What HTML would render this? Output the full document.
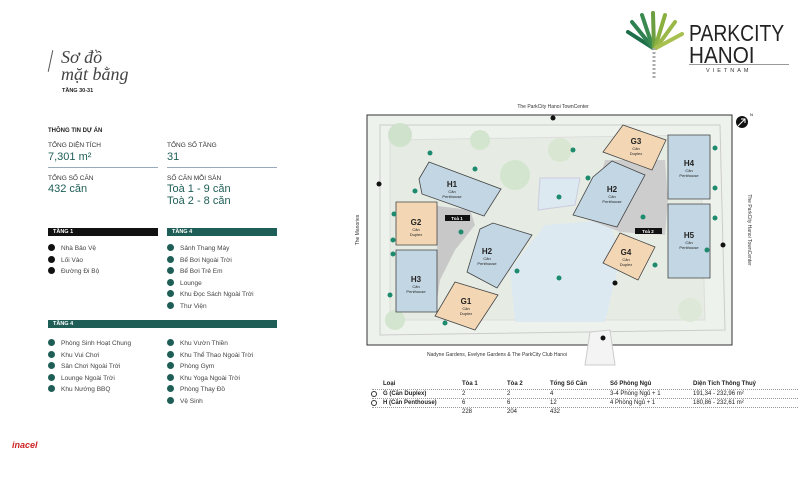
<!DOCTYPE html>
<html><head><meta charset="utf-8">
<style>
*{margin:0;padding:0;box-sizing:border-box}
body{width:800px;height:500px;background:#fff;position:relative;overflow:hidden;font-family:"Liberation Sans",sans-serif;color:#222}
.a{position:absolute;white-space:nowrap}
.s{font-size:6.5px;color:#333}
.h{font-size:6px;font-weight:bold;color:#222}
.v{font-size:11px;color:#1e5e56}
.bar{position:absolute;height:8px;color:#fff;font-size:5.5px;font-weight:bold;padding-left:5px;line-height:8px}
.it{position:absolute;font-size:6.5px;color:#444;white-space:nowrap}
.it b{display:inline-block;width:7px;height:7px;border-radius:50%;background:#1e5e56;margin-right:6px;vertical-align:-1px}
.k b{background:#111}
.t{position:absolute;font-size:6px;white-space:nowrap}
.th{font-weight:bold}
</style></head><body>
<div class="a" style="left:50px;top:50px;width:1px;height:22px;background:#555;transform:rotate(12deg)"></div>
<div class="a" style="left:61px;top:47px;font-family:'Liberation Serif',serif;font-style:italic;font-size:18px;color:#444">Sơ đồ</div>
<div class="a" style="left:61px;top:64px;font-family:'Liberation Serif',serif;font-style:italic;font-size:18px;color:#444">mặt bằng</div>
<div class="a h" style="left:62px;top:88px;font-size:5.5px">TẦNG 30-31</div>

<div class="a h" style="left:48px;top:128px">THÔNG TIN DỰ ÁN</div>
<div class="a s" style="left:48px;top:142px">TỔNG DIỆN TÍCH</div>
<div class="a v" style="left:48px;top:151px">7,301 m²</div>
<div class="a s" style="left:167px;top:142px">TỔNG SỐ TẦNG</div>
<div class="a v" style="left:167px;top:151px">31</div>
<div class="a" style="left:48px;top:167px;width:110px;height:1px;background:#9ab"></div>
<div class="a" style="left:167px;top:167px;width:110px;height:1px;background:#9ab"></div>
<div class="a s" style="left:48px;top:175px">TỔNG SỐ CĂN</div>
<div class="a v" style="left:48px;top:183px">432 căn</div>
<div class="a s" style="left:167px;top:175px">SỐ CĂN MỖI SÀN</div>
<div class="a v" style="left:167px;top:183px">Toà 1 - 9 căn</div>
<div class="a v" style="left:167px;top:195px">Toà 2 - 8 căn</div>

<div class="bar" style="left:48px;top:228px;width:110px;background:#111">TẦNG 1</div>
<div class="bar" style="left:167px;top:228px;width:110px;background:#1e5e56">TẦNG 4</div>
<div class="it k" style="left:48px;top:244px"><b></b>Nhà Bảo Vệ</div>
<div class="it k" style="left:48px;top:256px"><b></b>Lối Vào</div>
<div class="it k" style="left:48px;top:267px"><b></b>Đường Đi Bộ</div>
<div class="it" style="left:167px;top:244px"><b></b>Sảnh Thang Máy</div>
<div class="it" style="left:167px;top:256px"><b></b>Bể Bơi Ngoài Trời</div>
<div class="it" style="left:167px;top:267px"><b></b>Bể Bơi Trẻ Em</div>
<div class="it" style="left:167px;top:279px"><b></b>Lounge</div>
<div class="it" style="left:167px;top:290px"><b></b>Khu Đọc Sách Ngoài Trời</div>
<div class="it" style="left:167px;top:302px"><b></b>Thư Viện</div>

<div class="bar" style="left:48px;top:320px;width:229px;background:#1e5e56">TẦNG 4</div>
<div class="it" style="left:48px;top:339px"><b></b>Phòng Sinh Hoạt Chung</div>
<div class="it" style="left:48px;top:351px"><b></b>Khu Vui Chơi</div>
<div class="it" style="left:48px;top:362px"><b></b>Sân Chơi Ngoài Trời</div>
<div class="it" style="left:48px;top:374px"><b></b>Lounge Ngoài Trời</div>
<div class="it" style="left:48px;top:385px"><b></b>Khu Nướng BBQ</div>
<div class="it" style="left:167px;top:339px"><b></b>Khu Vườn Thiền</div>
<div class="it" style="left:167px;top:351px"><b></b>Khu Thể Thao Ngoài Trời</div>
<div class="it" style="left:167px;top:362px"><b></b>Phòng Gym</div>
<div class="it" style="left:167px;top:374px"><b></b>Khu Yoga Ngoài Trời</div>
<div class="it" style="left:167px;top:385px"><b></b>Phòng Thay Đồ</div>
<div class="it" style="left:167px;top:397px"><b></b>Vệ Sinh</div>

<!-- logo -->
<svg class="a" style="left:620px;top:10px" width="70" height="70" viewBox="0 0 70 70">
<g stroke-width="4" stroke-linecap="round" fill="none">
<path d="M33 38 L8 22" stroke="#1e6e4a"/><path d="M33 38 L12 12" stroke="#2e8050"/><path d="M33 38 L22 5" stroke="#3a8a50"/>
<path d="M34 38 L33 3" stroke="#6a9e40"/><path d="M35 38 L45 5" stroke="#8ab040"/><path d="M36 38 L55 12" stroke="#9ab848"/><path d="M36 38 L62 24" stroke="#a8c050"/>
</g>
<path d="M34 38 L34 68" stroke="#aaa" stroke-width="3" stroke-dasharray="2 2"/>
</svg>
<div class="a" style="left:689px;top:20px;font-size:23px;color:#222;transform:scaleX(0.84);transform-origin:0 0">PARKCITY</div>
<div class="a" style="left:689px;top:42px;font-size:23px;color:#222;transform:scaleX(0.9);transform-origin:0 0">HANOI</div>
<div class="a" style="left:689px;top:64px;width:100px;height:1px;background:#999"></div>
<div class="a" style="left:706px;top:68px;font-size:5.5px;letter-spacing:3px;color:#333">VIETNAM</div>

<!-- map -->
<svg class="a" style="left:340px;top:98px" width="420" height="270" viewBox="340 98 420 270">
<rect x="367" y="115" width="365" height="230" fill="#eef2ec" stroke="#333" stroke-width="1"/>
<path d="M380 125 L720 125 L725 330 L380 335 Z" fill="none" stroke="#ccc"/>
<path d="M390 140 L700 135 L705 320 L390 320 Z" fill="#e6ece4" stroke="#ddd"/>
<circle cx="400" cy="135" r="12" fill="#cfe2cc"/><circle cx="515" cy="175" r="15" fill="#d3e5cf"/><circle cx="480" cy="140" r="10" fill="#d3e5cf"/>
<circle cx="560" cy="150" r="12" fill="#d8e6d2"/><circle cx="395" cy="320" r="10" fill="#d3e5cf"/><circle cx="690" cy="310" r="12" fill="#dde8d8"/>
<path d="M540 178 L580 178 L575 205 L538 210 Z" fill="#dde9f1" stroke="#ccd"/>
<path d="M545 225 L610 220 L620 260 L605 322 L515 322 L510 270 Z" fill="#dde9f1"/>
<path d="M430 205 L470 210 L475 225 L455 250 L440 280 L437 300 L437 245 Z" fill="#c8c8c8"/>
<path d="M605 160 L665 160 L668 200 L665 235 L620 232 L590 220 Z" fill="#cdcdcd"/>
<path d="M590 332 L610 330 L615 365 L585 365 Z" fill="#f4f4f4" stroke="#ccc"/>
<g stroke="#444" stroke-width="0.8">
<polygon points="429,162 501,189 484,216 422,194 419,179" fill="#c3d6e3"/>
<polygon points="396,202 437,202 437,245 396,245" fill="#f3d7b5"/>
<polygon points="396,250 437,250 437,312 396,312" fill="#c3d6e3"/>
<polygon points="480,229 493,223 532,235 497,288 467,272" fill="#c3d6e3"/>
<polygon points="455,282 498,295 475,330 435,316" fill="#f3d7b5"/>
<polygon points="623,125 666,140 652,170 603,152" fill="#f3d7b5"/>
<polygon points="612,161 645,175 617,227 573,215 593,177" fill="#c3d6e3"/>
<polygon points="668,135 710,135 710,199 668,199" fill="#c3d6e3"/>
<polygon points="668,204 710,204 710,278 668,278" fill="#c3d6e3"/>
<polygon points="620,233 655,247 638,280 603,263" fill="#f3d7b5"/>
</g>
<g font-family="Liberation Sans" text-anchor="middle" fill="#222">
<g font-size="8" font-weight="bold"><text x="452" y="187">H1</text><text x="416" y="225">G2</text><text x="416" y="282">H3</text><text x="487" y="254">H2</text><text x="466" y="304">G1</text><text x="636" y="144">G3</text><text x="612" y="192">H2</text><text x="689" y="166">H4</text><text x="689" y="238">H5</text><text x="626" y="255">G4</text></g>
<g font-size="4"><text x="452" y="193">Căn</text><text x="452" y="198">Penthouse</text><text x="416" y="231">Căn</text><text x="416" y="236">Duplex</text><text x="416" y="288">Căn</text><text x="416" y="293">Penthouse</text><text x="487" y="260">Căn</text><text x="487" y="265">Penthouse</text><text x="466" y="310">Căn</text><text x="466" y="315">Duplex</text><text x="636" y="150">Căn</text><text x="636" y="155">Duplex</text><text x="612" y="198">Căn</text><text x="612" y="203">Penthouse</text><text x="689" y="172">Căn</text><text x="689" y="177">Penthouse</text><text x="689" y="244">Căn</text><text x="689" y="249">Penthouse</text><text x="626" y="261">Căn</text><text x="626" y="266">Duplex</text></g>
</g>
<rect x="445" y="215" width="25" height="6" fill="#111"/><text x="457" y="220" font-size="4.5" fill="#fff" text-anchor="middle" font-family="Liberation Sans" font-weight="bold">Toà 1</text>
<rect x="635" y="228" width="27" height="6" fill="#111"/><text x="648" y="233" font-size="4.5" fill="#fff" text-anchor="middle" font-family="Liberation Sans" font-weight="bold">Toà 2</text>
<g fill="#1e8a6e">
<circle cx="430" cy="153" r="2.5"/><circle cx="475" cy="169" r="2.5"/><circle cx="415" cy="191" r="2.5"/><circle cx="394" cy="214" r="2.5"/><circle cx="393" cy="240" r="2.5"/><circle cx="393" cy="254" r="2.5"/><circle cx="390" cy="295" r="2.5"/><circle cx="461" cy="232" r="2.5"/><circle cx="517" cy="271" r="2.5"/><circle cx="445" cy="323" r="2.5"/><circle cx="559" cy="278" r="2.5"/><circle cx="559" cy="197" r="2.5"/><circle cx="573" cy="150" r="2.5"/><circle cx="588" cy="178" r="2.5"/><circle cx="643" cy="217" r="2.5"/><circle cx="655" cy="265" r="2.5"/><circle cx="715" cy="148" r="2.5"/><circle cx="715" cy="188" r="2.5"/><circle cx="715" cy="218" r="2.5"/><circle cx="707" cy="250" r="2.5"/>
</g>
<g fill="#111"><circle cx="553" cy="118" r="2.5"/><circle cx="379" cy="184" r="2.5"/><circle cx="723" cy="245" r="2.5"/><circle cx="615" cy="283" r="2.5"/><circle cx="603" cy="338" r="2.5"/></g>
<circle cx="742" cy="122" r="6" fill="#111"/><path d="M738 126 L745 119 M741 119 L745 119 L745 123" stroke="#fff" stroke-width="1" fill="none"/>
<text x="750" y="116" font-size="4" font-family="Liberation Sans">N</text>
<g font-family="Liberation Sans" font-size="5" fill="#333">
<text x="553" y="108" text-anchor="middle">The ParkCity Hanoi TownCenter</text>
<text x="497" y="356" text-anchor="middle">Nadyne Gardens, Evelyne Gardens &amp; The ParkCity Club Hanoi</text>
<text transform="translate(359,230) rotate(-90)" text-anchor="middle">The Manories</text>
<text transform="translate(748,230) rotate(90)" text-anchor="middle">The ParkCity Hanoi TownCenter</text>
</g>
</svg>

<!-- table -->
<div class="t th" style="left:383px;top:381px">Loại</div>
<div class="t th" style="left:462px;top:381px">Tòa 1</div>
<div class="t th" style="left:507px;top:381px">Tòa 2</div>
<div class="t th" style="left:550px;top:381px">Tổng Số Căn</div>
<div class="t th" style="left:610px;top:381px">Số Phòng Ngủ</div>
<div class="t th" style="left:693px;top:381px">Diện Tích Thông Thuỷ</div>
<div class="a" style="left:372px;top:389px;width:426px;border-top:1px dotted #999"></div>
<div class="a" style="left:371px;top:391px;width:6px;height:6px;border:1px solid #333;border-radius:50%"></div>
<div class="t th" style="left:383px;top:391px">G (Căn Duplex)</div>
<div class="t" style="left:462px;top:391px">2</div><div class="t" style="left:507px;top:391px">2</div><div class="t" style="left:550px;top:391px">4</div>
<div class="t" style="left:610px;top:391px">3-4 Phòng Ngủ + 1</div><div class="t" style="left:693px;top:391px">191,34 - 232,96 m²</div>
<div class="a" style="left:372px;top:398px;width:426px;border-top:1px dotted #999"></div>
<div class="a" style="left:371px;top:400px;width:6px;height:6px;border:1px solid #333;border-radius:50%"></div>
<div class="t th" style="left:383px;top:400px">H (Căn Penthouse)</div>
<div class="t" style="left:462px;top:400px">6</div><div class="t" style="left:507px;top:400px">6</div><div class="t" style="left:550px;top:400px">12</div>
<div class="t" style="left:610px;top:400px">4 Phòng Ngủ + 1</div><div class="t" style="left:693px;top:400px">180,86 - 232,61 m²</div>
<div class="a" style="left:372px;top:407px;width:426px;border-top:1px dotted #999"></div>
<div class="t" style="left:462px;top:409px">228</div><div class="t" style="left:507px;top:409px">204</div><div class="t" style="left:550px;top:409px">432</div>

<div class="a" style="left:12px;top:440px;font-size:9px;font-weight:bold;color:#c22;font-style:italic">inacel</div>
</body></html>
